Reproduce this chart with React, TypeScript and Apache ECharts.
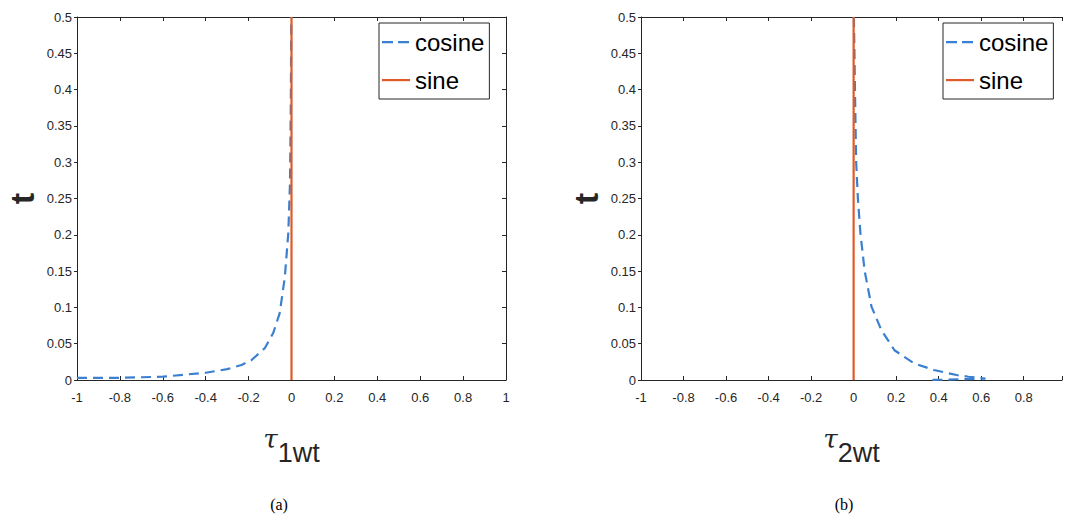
import React, { useEffect, useRef } from "react";
import * as echarts from "echarts";

// tau_1wt (x) vs t (y), panel (a)
const cosineA: [number, number][] = [
  [-1, 0.003], [-0.8, 0.003], [-0.6, 0.0046], [-0.4, 0.01], [-0.3, 0.015],
  [-0.233, 0.0207], [-0.186, 0.0275], [-0.124, 0.044], [-0.085, 0.065],
  [-0.055, 0.092], [-0.031, 0.142], [-0.015, 0.202], [-0.007, 0.271],
  [-0.003, 0.386], [-0.001, 0.5],
];
// tau_2wt (x) vs t (y), panel (b)
const cosineB: [number, number][] = [
  [0.001, 0.5], [0.004, 0.45], [0.007, 0.386], [0.012, 0.3], [0.02, 0.25],
  [0.032, 0.202], [0.052, 0.15], [0.075, 0.115], [0.084, 0.101], [0.13, 0.069],
  [0.192, 0.041], [0.284, 0.023], [0.377, 0.0138], [0.484, 0.0069],
  [0.54, 0.0045], [0.62, 0.002], [0.52, 0.0013], [0.44, 0.0005], [0.35, 0],
];
const sineA: [number, number][] = [[0, 0], [0, 0.5]];
const sineB: [number, number][] = [[0, 0], [0, 0.5]];
const seriesNames = ["cosine", "sine"];
const captions = ["(a)", "(b)"];

const BLUE = "#3b80d0";
const RED = "#de5a26";
const AX = "#262626";
const FONT = "Liberation Sans";

const DASH_ICON = "path://M0,0L0,0M28,22L28,22M0,10h11v2.2h-11zM16,10h11v2.2h-11z";
const SOLID_ICON = "path://M0,0L0,0M28,22L28,22M0,10h28v2.2h-28z";

const fmtX = (v: number) =>
  Math.abs(v * 5 - Math.round(v * 5)) < 1e-6 ? String(+v.toFixed(2)) : "";

export default function App() {
  const ref = useRef<HTMLDivElement>(null);
  useEffect(() => {
    if (!ref.current) return;
    const chart = echarts.init(ref.current, undefined, { renderer: "svg" });
    const label = { color: AX, fontSize: 13, fontFamily: FONT };
    const bottomX = (grid: number, max: number, name: string) => ({
      type: "value", gridIndex: grid, min: -1, max, interval: 0.2, position: "bottom",
      axisLine: { show: true, onZero: false, lineStyle: { color: AX, width: 1 } },
      axisTick: { show: true, inside: true, length: 4, lineStyle: { color: AX } },
      axisLabel: { ...label, margin: 11, formatter: fmtX, showMaxLabel: true, showMinLabel: true },
      splitLine: { show: false },
      name: `{tau|τ}{sub|${name}}`,
      nameLocation: "middle",
      nameGap: 46,
      nameTextStyle: {
        rich: {
          tau: { fontSize: 26, fontStyle: "italic", fontFamily: "DejaVu Serif", color: AX, verticalAlign: "top", lineHeight: 40, padding: [0, 0, 16, 0] },
          sub: { fontSize: 27, fontFamily: FONT, color: AX, verticalAlign: "bottom", lineHeight: 40, padding: [16, 0, 0, 0] },
        },
      },
    });
    const topX = (grid: number, max: number) => ({
      type: "value", gridIndex: grid, min: -1, max, interval: 0.2, position: "top",
      axisLine: { show: true, onZero: false, lineStyle: { color: AX, width: 1 } },
      axisTick: { show: true, inside: true, length: 4, lineStyle: { color: AX } },
      axisLabel: { show: false }, splitLine: { show: false },
    });
    const leftY = (grid: number) => ({
      type: "value", gridIndex: grid, min: 0, max: 0.5, interval: 0.05, position: "left",
      axisLine: { show: true, onZero: false, lineStyle: { color: AX, width: 1 } },
      axisTick: { show: true, inside: false, length: 3, lineStyle: { color: AX } },
      axisLabel: { ...label, margin: 5, formatter: (v: number) => String(+v.toFixed(2)) },
      splitLine: { show: false },
      name: "t", nameLocation: "middle", nameRotate: 90, nameGap: 38,
      nameTextStyle: { fontSize: 34, fontWeight: "bold", fontFamily: FONT, color: AX },
    });
    const rightY = (grid: number) => ({
      type: "value", gridIndex: grid, min: 0, max: 0.5, interval: 0.05, position: "right",
      axisLine: { show: true, onZero: false, lineStyle: { color: AX, width: 1 } },
      axisTick: { show: true, inside: true, length: 4, lineStyle: { color: AX } },
      axisLabel: { show: false }, splitLine: { show: false },
    });
    const legend = (left: number) => ({
      orient: "vertical", left, top: 23,
      padding: [7, 5, 7, 3], itemGap: 14, itemWidth: 28, itemHeight: 23,
      borderColor: AX, borderWidth: 1, backgroundColor: "#fff",
      selectedMode: false,
      itemStyle: { borderWidth: 0 },
      textStyle: { fontSize: 24, fontFamily: FONT, color: "#000" },
      data: [
        { name: seriesNames[0], icon: DASH_ICON, itemStyle: { color: BLUE, borderWidth: 0 } },
        { name: seriesNames[1], icon: SOLID_ICON, itemStyle: { color: RED, borderWidth: 0 } },
      ],
    });
    const line = (name: string, data: [number, number][], xi: number, yi: number, dashed: boolean) => ({
      type: "line", name, data, xAxisIndex: xi, yAxisIndex: yi,
      showSymbol: false, symbol: "none", smooth: false, silent: true,
      lineStyle: dashed
        ? { color: BLUE, width: 2.2, type: [10, 6] }
        : { color: RED, width: 2.2, type: "solid" },
      itemStyle: { color: dashed ? BLUE : RED },
    });
    chart.setOption({
      animation: false,
      backgroundColor: "#fff",
      grid: [
        { left: 77, right: 559, top: 17, bottom: 136 },
        { left: 641, right: 0, top: 17, bottom: 136 },
      ],
      xAxis: [bottomX(0, 1, "1wt"), topX(0, 1), bottomX(1, 0.98, "2wt"), topX(1, 0.98)],
      yAxis: [leftY(0), rightY(0), leftY(1)],
      legend: [legend(379), legend(943)],
      series: [
        line(seriesNames[0], cosineA, 0, 0, true),
        line(seriesNames[1], sineA, 0, 0, false),
        line(seriesNames[0], cosineB, 2, 2, true),
        line(seriesNames[1], sineB, 2, 2, false),
      ],
      graphic: [
        { type: "text", x: 279, y: 504, style: { text: captions[0], fontSize: 16, fontFamily: "Liberation Serif", fill: "#000", textAlign: "center", textVerticalAlign: "middle" } },
        { type: "text", x: 844, y: 504, style: { text: captions[1], fontSize: 16, fontFamily: "Liberation Serif", fill: "#000", textAlign: "center", textVerticalAlign: "middle" } },
      ],
    });
    return () => chart.dispose();
  }, []);
  return <div ref={ref} style={{ position: "fixed", left: 0, top: 0, width: 1065, height: 516 }} />;
}
